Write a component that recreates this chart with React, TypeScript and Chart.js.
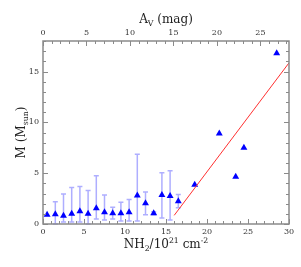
import React, { useEffect, useRef } from 'react';
import { Chart, registerables } from 'chart.js';
Chart.register(...registerables);

const nh2Bins = [0.5, 1.5, 2.5, 3.5, 4.5, 5.5, 6.5, 7.5, 8.5, 9.5, 10.5, 11.5, 12.5, 13.5, 14.5, 15.5, 16.5, 18.5, 21.5, 23.5, 24.5, 28.5];
const massValues = [0.9, 0.95, 0.8, 1.0, 1.25, 1.0, 1.55, 1.15, 1.05, 1.05, 1.15, 2.8, 2.05, 1.05, 2.85, 2.75, 2.25, 3.85, 8.9, 4.65, 7.5, 16.8];
const errLow: (number | null)[] = [null, 0.0, 0.2, 0.2, 0.2, 0.0, 0.5, 0.4, 0.5, 0.3, 0.3, 0.3, 0.9, 0.9, 0.6, 0.4, 1.6, null, null, null, null, null];
const errHigh: (number | null)[] = [null, 2.2, 2.95, 3.6, 3.7, 3.3, 4.75, 2.85, 1.65, 2.15, 2.4, 6.85, 3.15, 1.2, 5.05, 5.25, 2.9, null, null, null, null, null];
const fitX = [16, 30];
const fitY = [0.85, 15.85];
const xTickLabels = [0, 5, 10, 15, 20, 25, 30];
const yTickLabels = [0, 5, 10, 15];
const avTickLabels = [0, 5, 10, 15, 20, 25];
const avPerNH2 = 0.943;

const SERIF = '"DejaVu Serif", serif';

type Seg = { t: string; k?: 'sub' | 'sup' };

function drawRich(ctx: CanvasRenderingContext2D, segs: Seg[], size: number) {
  const small = size * 0.65;
  let w = 0;
  for (const s of segs) {
    ctx.font = `${s.k ? small : size}px ${SERIF}`;
    w += ctx.measureText(s.t).width;
  }
  let x = -w / 2;
  ctx.textAlign = 'left';
  ctx.textBaseline = 'alphabetic';
  for (const s of segs) {
    ctx.font = `${s.k ? small : size}px ${SERIF}`;
    const dy = s.k === 'sub' ? size * 0.25 : s.k === 'sup' ? -size * 0.42 : 0;
    ctx.fillText(s.t, x, dy);
    x += ctx.measureText(s.t).width;
  }
}

const axesPlugin = {
  id: 'axesDecor',
  beforeDatasetsDraw(chart: any) {
    const ctx = chart.ctx as CanvasRenderingContext2D;
    const xs = chart.scales.x;
    const ys = chart.scales.y;
    ctx.save();
    ctx.strokeStyle = 'rgba(120,120,255,0.6)';
    ctx.lineWidth = 1.5;
    for (let i = 0; i < nh2Bins.length; i++) {
      const lo = errLow[i];
      const hi = errHigh[i];
      if (lo == null || hi == null) continue;
      const px = xs.getPixelForValue(nh2Bins[i]);
      const p1 = ys.getPixelForValue(lo);
      const p2 = ys.getPixelForValue(hi);
      ctx.beginPath();
      ctx.moveTo(px, p1);
      ctx.lineTo(px, p2);
      ctx.moveTo(px - 2.5, p1);
      ctx.lineTo(px + 2.5, p1);
      ctx.moveTo(px - 2.5, p2);
      ctx.lineTo(px + 2.5, p2);
      ctx.stroke();
    }
    ctx.restore();
  },
  afterDraw(chart: any) {
    const ctx = chart.ctx as CanvasRenderingContext2D;
    const a = chart.chartArea;
    const xs = chart.scales.x;
    const ys = chart.scales.y;
    ctx.save();
    ctx.strokeStyle = '#8a8a8a';
    ctx.lineWidth = 1.5;
    ctx.strokeRect(a.left, a.top, a.right - a.left, a.bottom - a.top);
    ctx.lineWidth = 1;
    ctx.beginPath();
    for (let v = 0; v <= 30; v++) {
      const px = Math.round(xs.getPixelForValue(v)) + 0.5;
      const len = v % 5 === 0 ? 5 : 3;
      ctx.moveTo(px, a.bottom);
      ctx.lineTo(px, a.bottom - len);
    }
    for (let v = 0; v <= 28; v++) {
      const px = Math.round(xs.getPixelForValue(v / avPerNH2)) + 0.5;
      const len = v % 5 === 0 ? 5 : 3;
      ctx.moveTo(px, a.top);
      ctx.lineTo(px, a.top + len);
    }
    for (let v = 0; v <= 18; v++) {
      const py = Math.round(ys.getPixelForValue(v)) + 0.5;
      const len = v % 5 === 0 ? 5 : 3;
      ctx.moveTo(a.left, py);
      ctx.lineTo(a.left + len, py);
      ctx.moveTo(a.right, py);
      ctx.lineTo(a.right - len, py);
    }
    ctx.stroke();

    ctx.fillStyle = '#333';
    ctx.font = `8px ${SERIF}`;
    ctx.textAlign = 'center';
    ctx.textBaseline = 'middle';
    for (const v of xTickLabels) {
      ctx.fillText(String(v), xs.getPixelForValue(v), a.bottom + 8);
    }
    for (const v of avTickLabels) {
      ctx.fillText(String(v), xs.getPixelForValue(v / avPerNH2), a.top - 8);
    }
    ctx.textAlign = 'right';
    for (const v of yTickLabels) {
      ctx.fillText(String(v), a.left - 4, ys.getPixelForValue(v));
    }

    ctx.fillStyle = '#222';
    const cx = (a.left + a.right) / 2;
    ctx.save();
    ctx.translate(cx, 248);
    drawRich(ctx, [{ t: 'NH' }, { t: '2', k: 'sub' }, { t: '/10' }, { t: '21', k: 'sup' }, { t: ' cm' }, { t: '-2', k: 'sup' }], 12);
    ctx.restore();
    ctx.save();
    ctx.translate(cx, 23);
    drawRich(ctx, [{ t: 'A' }, { t: 'V', k: 'sub' }, { t: ' (mag)' }], 12);
    ctx.restore();
    ctx.save();
    ctx.translate(25, (a.top + a.bottom) / 2);
    ctx.rotate(-Math.PI / 2);
    drawRich(ctx, [{ t: 'M (M' }, { t: 'sun', k: 'sub' }, { t: ')' }], 12);
    ctx.restore();
    ctx.restore();
  },
};

export default function App() {
  const ref = useRef<HTMLCanvasElement>(null);
  useEffect(() => {
    document.body.style.margin = '0';
    const points = nh2Bins.map((x, i) => ({ x, y: massValues[i] }));
    const fit = fitX.map((x, i) => ({ x, y: fitY[i] }));
    const chart = new Chart(ref.current!, {
      type: 'scatter',
      data: {
        datasets: [
          {
            type: 'line',
            data: fit,
            borderColor: '#ff3030',
            borderWidth: 1,
            pointRadius: 0,
            fill: false,
          } as any,
          {
            data: points,
            pointStyle: 'triangle',
            pointRadius: 4,
            backgroundColor: '#0000ff',
            borderColor: '#0000ff',
            borderWidth: 0,
          },
        ],
      },
      options: {
        responsive: false,
        animation: false,
        layout: { padding: { left: 43, right: 12, top: 41, bottom: 43 } },
        plugins: { legend: { display: false }, tooltip: { enabled: false } },
        scales: {
          x: { type: 'linear', min: 0, max: 30, display: false },
          y: { type: 'linear', min: 0, max: 18, display: false },
        },
      },
      plugins: [axesPlugin],
    });
    return () => chart.destroy();
  }, []);
  return <canvas ref={ref} width={301} height={267} style={{ display: 'block' }} />;
}
